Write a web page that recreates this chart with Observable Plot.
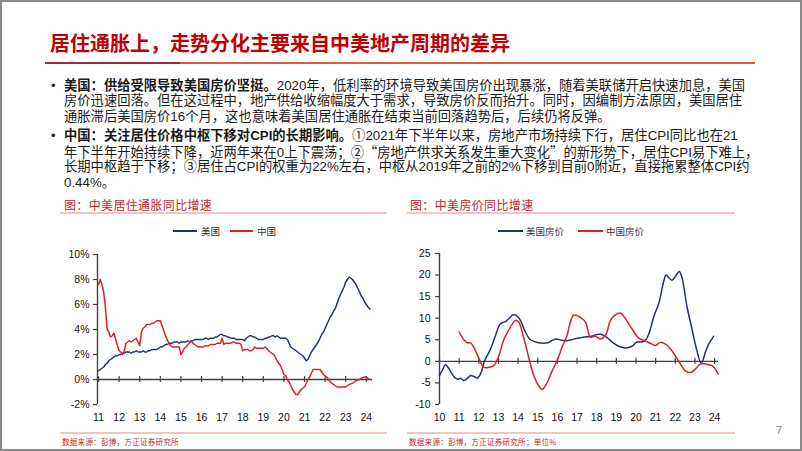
<!DOCTYPE html>
<html><head><meta charset="utf-8">
<script src="https://cdn.jsdelivr.net/npm/d3@7"></script>
<script src="https://cdn.jsdelivr.net/npm/@observablehq/plot@0.6"></script>
<style>
html,body{margin:0;padding:0;background:#fff;}
#slide{position:relative;width:802px;height:451px;overflow:hidden;font-family:"Liberation Sans",Arial,"Noto Sans CJK SC",sans-serif;background:#fff;}
#frame{position:absolute;left:0;top:0;width:802px;height:451px;box-sizing:border-box;border:2px solid #8c8c8c;pointer-events:none;}
.abs{position:absolute;white-space:nowrap;}
.title{left:50px;top:30px;font-size:20px;line-height:26px;color:#C00000;font-weight:bold;font-family:"Noto Sans CJK SC",sans-serif;}
.body{font-size:13.3px;line-height:15.5px;color:#1a1a1a;}
.bul{font-size:13px;line-height:15.5px;color:#1a1a1a;}
.cj{font-family:"Noto Sans CJK SC",sans-serif;}
.ctitle{font-size:12px;line-height:14px;color:#C0282D;letter-spacing:0.35px;font-family:"Noto Sans CJK SC",sans-serif;}
.leg{font-size:9.5px;line-height:12px;color:#333;font-family:"Noto Sans CJK SC",sans-serif;}
.foot{font-size:7.6px;line-height:10px;color:#C0282D;letter-spacing:0.2px;font-family:"Noto Sans CJK SC",sans-serif;}
.plot{position:absolute;}
</style></head>
<body>
<div id="slide">
  <div class="abs title">居住通胀上，走势分化主要来自中美地产周期的差异</div>
  <div class="abs" style="left:45px;top:62px;width:135px;height:2px;background:#A5243D"></div>
  <div class="abs" style="left:180px;top:62px;width:575px;height:2px;background:#E2593A"></div>

  <div class="abs bul" style="left:51px;top:77.5px">•</div>
  <div class="abs body" style="left:64px;top:77.5px"><b>美国：供给受限导致美国房价坚挺。</b>2020年，低利率的环境导致美国房价出现暴涨，随着美联储开启快速加息，美国</div>
  <div class="abs body" style="left:64px;top:93.2px">房价迅速回落。但在这过程中，地产供给收缩幅度大于需求，导致房价反而抬升。同时，因编制方法原因，美国居住</div>
  <div class="abs body" style="left:64px;top:108.9px">通胀滞后美国房价16个月，这也意味着美国居住通胀在结束当前回落趋势后，后续仍将反弹。</div>

  <div class="abs bul" style="left:51px;top:128px">•</div>
  <div class="abs body" style="left:64px;top:128px"><b>中国：关注居住价格中枢下移对CPI的长期影响。</b>①2021年下半年以来，房地产市场持续下行，居住CPI同比也在21</div>
  <div class="abs body" style="left:64px;top:143.7px">年下半年开始持续下降，近两年来在0上下震荡；②<span class="cj">“</span>房地产供求关系发生重大变化<span class="cj">”</span>的新形势下，居住CPI易下难上，</div>
  <div class="abs body" style="left:64px;top:159.4px">长期中枢趋于下移；③居住占CPI的权重为22%左右，中枢从2019年之前的2%下移到目前0附近，直接拖累整体CPI约</div>
  <div class="abs body" style="left:64px;top:175.1px">0.44%。</div>

  <div class="abs ctitle" style="left:64px;top:198px">图：中美居住通胀同比增速</div>
  <div class="abs" style="left:60px;top:211.5px;width:327px;height:2px;background:#F2C4C4"></div>
  <div class="abs ctitle" style="left:410px;top:198px">图：中美房价同比增速</div>
  <div class="abs" style="left:407px;top:211.5px;width:328px;height:2px;background:#F2C4C4"></div>

  <div class="abs" style="left:173px;top:229.5px;width:24px;height:2px;background:#1F3470"></div>
  <div class="abs leg" style="left:201px;top:224.5px">美国</div>
  <div class="abs" style="left:230px;top:229.5px;width:23px;height:2px;background:#DB2026"></div>
  <div class="abs leg" style="left:257px;top:224.5px">中国</div>

  <div class="abs" style="left:498px;top:229.5px;width:25px;height:2px;background:#1F3470"></div>
  <div class="abs leg" style="left:526px;top:224.5px">美国房价</div>
  <div class="abs" style="left:578px;top:229.5px;width:25px;height:2px;background:#DB2026"></div>
  <div class="abs leg" style="left:606px;top:224.5px">中国房价</div>

  <div id="left" class="plot" style="left:60px;top:245px"></div>
  <div id="right" class="plot" style="left:400px;top:245px"></div>

  <div class="abs" style="left:60px;top:432px;width:327px;height:1.5px;background:#F2C4C4"></div>
  <div class="abs" style="left:407px;top:432px;width:328px;height:1.5px;background:#F2C4C4"></div>
  <div class="abs foot" style="left:62px;top:437px">数据来源：彭博，方正证券研究所</div>
  <div class="abs foot" style="left:409px;top:437px">数据来源：彭博，方正证券研究所；单位%</div>
  <div class="abs" style="left:776px;top:423px;font-size:11px;line-height:14px;color:#7f7f7f">7</div>
  <div id="frame"></div>
</div>
<script>
// ---------- Left chart: housing (shelter) inflation YoY, monthly from 2011-01 ----------
const shelterStart = 2011;
const usShelter = [
  0.7,0.8,0.9,1.0,1.2,1.3,1.5,1.6,1.7,1.8,1.9,1.9,
  2.0,2.0,2.1,2.1,2.2,2.2,2.2,2.1,2.2,2.2,2.3,2.2,
  2.2,2.2,2.3,2.2,2.2,2.3,2.3,2.4,2.4,2.4,2.4,2.5,
  2.6,2.6,2.7,2.8,2.8,2.9,2.9,2.9,3.0,3.0,3.0,2.9,
  3.0,3.0,3.0,3.0,3.1,3.0,3.1,3.1,3.2,3.2,3.2,3.2,
  3.2,3.2,3.3,3.3,3.2,3.3,3.3,3.3,3.4,3.4,3.5,3.6,
  3.6,3.5,3.5,3.4,3.4,3.3,3.3,3.3,3.2,3.2,3.2,3.2,
  3.2,3.1,3.3,3.4,3.5,3.5,3.4,3.4,3.3,3.2,3.2,3.2,
  3.2,3.3,3.3,3.4,3.4,3.5,3.5,3.4,3.5,3.4,3.3,3.3,
  3.3,3.3,3.2,2.9,2.6,2.5,2.4,2.3,2.2,2.1,2.0,1.9,
  1.7,1.5,1.6,1.9,2.2,2.4,2.6,2.8,3.0,3.3,3.6,3.8,
  4.1,4.4,4.7,5.0,5.2,5.5,5.7,6.1,6.5,6.8,7.1,7.4,
  7.8,8.0,8.2,8.1,8.0,7.8,7.6,7.3,7.0,6.7,6.5,6.2,
  6.0,5.8,5.65
];
const cnShelter = [
  7.6,8.0,7.6,7.0,5.8,4.0,3.8,3.4,3.5,3.7,3.2,2.7,
  2.3,2.2,2.0,2.3,2.9,3.0,3.1,3.0,3.1,3.2,3.3,3.0,
  2.7,3.8,4.1,4.2,4.4,4.4,4.4,4.5,4.5,4.6,4.7,4.7,
  4.7,4.3,3.9,3.5,3.2,2.9,2.7,2.6,2.6,2.6,2.6,2.6,
  2.0,2.2,2.5,2.6,2.8,2.9,3.1,2.9,2.8,2.7,2.6,2.6,
  2.6,2.6,2.7,2.7,2.7,2.8,2.8,2.8,2.8,2.9,2.9,2.9,
  3.3,2.8,2.9,2.9,2.9,2.9,3.0,3.0,2.9,2.9,2.9,2.8,
  2.3,2.4,2.4,2.4,2.3,2.3,2.4,2.6,2.5,2.5,2.5,2.5,
  2.5,2.6,2.5,2.3,2.2,2.1,2.0,1.8,1.5,1.3,1.1,0.8,
  0.4,0.3,0.0,-0.2,-0.5,-0.8,-1.0,-1.2,-1.2,-1.0,-0.8,-0.7,
  -0.6,-0.3,0.0,0.2,0.5,0.8,0.8,0.8,0.8,0.8,0.6,0.4,
  0.3,0.2,0.0,-0.2,-0.3,-0.4,-0.5,-0.6,-0.6,-0.6,-0.6,-0.6,
  -0.6,-0.5,-0.4,-0.35,-0.3,-0.2,-0.1,-0.05,0.0,0.1,0.15,0.2,
  0.2,0.1,0.0
];
const leftYears = [2011,2012,2013,2014,2015,2016,2017,2018,2019,2020,2021,2022,2023,2024];
const leftYLabels = ["-2%","0%","2%","4%","6%","8%","10%"];
const leftYTicks = [-2,0,2,4,6,8,10];

// ---------- Right chart: house price YoY ----------
const usHouseT = [2010.0,2010.15,2010.3,2010.45,2010.6,2010.8,2011.0,2011.07,2011.24,2011.4,2011.6,2011.75,2011.92,2012.09,2012.3,2012.45,2012.6,2012.85,2013.05,2013.2,2013.36,2013.55,2013.75,2013.95,2014.12,2014.37,2014.63,2014.85,2015.05,2015.3,2015.5,2015.75,2015.95,2016.2,2016.45,2016.7,2016.95,2017.2,2017.5,2017.75,2018.0,2018.2,2018.45,2018.78,2019.12,2019.46,2019.8,2020.05,2020.3,2020.5,2020.7,2020.9,2021.16,2021.41,2021.53,2021.65,2021.83,2022.0,2022.2,2022.33,2022.6,2022.85,2023.1,2023.33,2023.53,2023.7,2023.95];
const usHouseV = [-3.3,-2.0,-0.8,-1.5,-2.6,-3.9,-4.1,-3.9,-4.5,-4.0,-3.3,-3.5,-3.9,-2.9,0.2,1.5,2.9,6.0,8.4,9.0,9.2,10.0,10.8,10.5,9.5,6.8,5.0,4.6,4.3,4.2,4.3,4.9,5.2,4.9,4.8,5.0,5.3,5.5,5.7,5.8,6.2,6.3,5.8,4.5,3.5,3.1,3.5,4.5,4.5,5.0,7.0,10.3,13.4,18.5,20.0,19.5,18.8,19.6,20.8,19.6,12.6,7.5,2.5,-0.5,2.1,4.0,5.8];
const cnHouseT = [2011.0,2011.24,2011.41,2011.58,2011.83,2012.09,2012.26,2012.51,2012.76,2013.02,2013.27,2013.61,2013.86,2014.03,2014.29,2014.54,2014.8,2015.05,2015.22,2015.48,2015.73,2015.99,2016.24,2016.49,2016.66,2016.83,2017.09,2017.26,2017.43,2017.6,2017.68,2017.94,2018.19,2018.45,2018.7,2018.95,2019.2,2019.46,2019.8,2020.14,2020.48,2020.73,2020.99,2021.24,2021.5,2021.75,2022.0,2022.26,2022.51,2022.77,2023.02,2023.28,2023.53,2023.87,2024.04,2024.18];
const cnHouseV = [6.8,5.0,4.3,4.3,2.5,-0.2,-1.4,-1.4,-1.0,1.3,5.0,7.9,9.5,9.1,5.4,0.9,-3.3,-5.7,-6.5,-4.9,-2.2,0.2,3.3,6.0,9.1,10.7,10.4,9.9,9.1,6.4,5.6,5.8,5.2,6.0,9.5,10.8,11.2,9.9,7.5,5.4,4.7,4.2,3.7,4.4,4.0,2.9,1.3,-0.6,-2.2,-2.6,-1.8,-0.6,-0.6,-1.0,-1.8,-3.0];
const rightYears = [2010,2011,2012,2013,2014,2015,2016,2017,2018,2019,2020,2021,2022,2023,2024];
const rightYTicks = [-10,-5,0,5,10,15,20,25];

const BLUE = "#1F3470", RED = "#DB2026", AXIS = "#404040";

const toRows = (arr, start) => arr.map((v, i) => ({t: start + i / 12, v}));
const pairRows = (T, V) => T.map((t, i) => ({t, v: V[i]}));
const yy = d => String(d % 100).padStart(2, "0");

const axisStyle = {fontFamily: "'Liberation Sans', Arial, sans-serif", fontSize: "10.5px", color: "#111", background: "transparent", overflow: "visible"};

const left = Plot.plot({
  width: 320, height: 181,
  marginLeft: 37, marginRight: 8, marginTop: 9, marginBottom: 22,
  style: axisStyle,
  x: {domain: [2010.95, 2024.3], label: null},
  y: {domain: [-2, 10], label: null},
  marks: [
    Plot.axisY({ticks: leftYTicks, tickFormat: (d) => leftYLabels[leftYTicks.indexOf(d)], tickSize: 4, tickPadding: 4, stroke: AXIS, strokeWidth: 1.2}),
    Plot.axisX({ticks: leftYears, tickFormat: yy, tickSize: 0, tickPadding: 9}),
    Plot.ruleX([2010.95], {stroke: AXIS, strokeWidth: 1.4}),
    Plot.ruleY([0], {stroke: AXIS, strokeWidth: 1.4}),
    Plot.ruleX(leftYears, {x: (d) => d, y1: 0, y2: 0, insetTop: -3, insetBottom: -3, stroke: AXIS, strokeWidth: 1.2}),
    Plot.line(toRows(usShelter, shelterStart), {x: "t", y: "v", stroke: BLUE, strokeWidth: 1.5}),
    Plot.line(toRows(cnShelter, shelterStart), {x: "t", y: "v", stroke: RED, strokeWidth: 1.5})
  ]
});
document.getElementById("left").appendChild(left);

const right = Plot.plot({
  width: 330, height: 181,
  marginLeft: 39, marginRight: 12, marginTop: 8, marginBottom: 22,
  style: axisStyle,
  x: {domain: [2010, 2024.2], label: null},
  y: {domain: [-10, 25], label: null},
  marks: [
    Plot.axisY({ticks: rightYTicks, tickFormat: (d) => String(d), tickSize: 4, tickPadding: 5, stroke: AXIS, strokeWidth: 1.2}),
    Plot.axisX({ticks: rightYears, tickFormat: yy, tickSize: 0, tickPadding: 9}),
    Plot.ruleX([2010], {stroke: AXIS, strokeWidth: 1.4}),
    Plot.ruleY([0], {stroke: AXIS, strokeWidth: 1.4}),
    Plot.ruleX(rightYears, {x: (d) => d, y1: 0, y2: 0, insetTop: -3, insetBottom: -3, stroke: AXIS, strokeWidth: 1.2}),
    Plot.line(pairRows(usHouseT, usHouseV), {x: "t", y: "v", stroke: BLUE, strokeWidth: 1.5, curve: "catmull-rom"}),
    Plot.line(pairRows(cnHouseT, cnHouseV), {x: "t", y: "v", stroke: RED, strokeWidth: 1.5, curve: "catmull-rom"})
  ]
});
document.getElementById("right").appendChild(right);
</script>
</body></html>
